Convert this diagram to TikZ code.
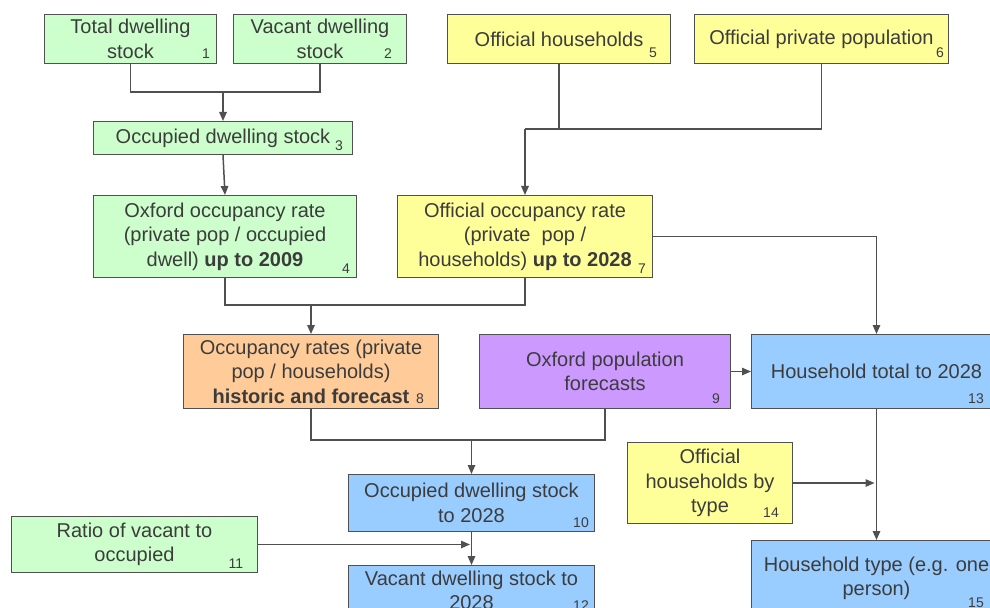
\documentclass[tikz,border=0pt]{standalone}
\usepackage{fontspec}
\setmainfont{Liberation Sans}
\usetikzlibrary{arrows.meta}

\definecolor{fgreen}{HTML}{CCFFCC}
\definecolor{fyellow}{HTML}{FFFF99}
\definecolor{forange}{HTML}{FFCC99}
\definecolor{fpurple}{HTML}{CC99FF}
\definecolor{fblue}{HTML}{99CCFF}
\definecolor{edge}{HTML}{505050}
\definecolor{ink}{HTML}{3C3C3C}

\begin{document}
\begin{tikzpicture}[
  x=1bp, y=-1bp,
  box/.style={draw=edge, line width=1bp, inner sep=0pt, anchor=north west,
    align=center, text=ink, font=\fontsize{20bp}{24.5bp}\selectfont},
  num/.style={inner sep=0pt, text=ink, font=\fontsize{14bp}{14bp}\selectfont},
  link/.style={draw=edge, line width=1.5bp},
  flow/.style={link, -{Triangle[length=9bp,width=7.5bp]}},
]
\useasboundingbox (0,0) rectangle (990,608);
\clip (0,0) rectangle (990,608);

% --- boxes ---
\node[box, fill=fgreen, minimum width=172bp, minimum height=49bp] (b1) at (44,14)
  {Total dwelling\\stock};
\node[box, fill=fgreen, minimum width=173bp, minimum height=49bp] (b2) at (233,14)
  {Vacant dwelling\\stock};
\node[box, fill=fgreen, minimum width=259bp, minimum height=33bp] (b3) at (93,121)
  {Occupied dwelling stock};
\node[box, fill=fgreen, minimum width=263bp, minimum height=82bp] (b4) at (93,195)
  {Oxford occupancy rate\\(private pop / occupied\\dwell) \textbf{up to 2009}};
\node[box, fill=fyellow, minimum width=223bp, minimum height=49bp] (b5) at (447,14)
  {Official households};
\node[box, fill=fyellow, minimum width=254bp, minimum height=49bp] (b6) at (694,14)
  {Official private population};
\node[box, fill=fyellow, minimum width=255bp, minimum height=82bp] (b7) at (397,195)
  {Official occupancy rate\\(private\ \ pop /\\households) \textbf{up to 2028}};
\node[box, fill=forange, minimum width=255bp, minimum height=74bp] (b8) at (183,334)
  {Occupancy rates (private\\pop / households)\\\textbf{historic and forecast}};
\node[box, fill=fpurple, minimum width=251bp, minimum height=74bp] (b9) at (479,334)
  {Oxford population\\forecasts};
\node[box, fill=fblue, minimum width=250bp, minimum height=74bp] (b13) at (751,334)
  {Household total to 2028};
\node[box, fill=fyellow, minimum width=165bp, minimum height=81bp] (b14) at (627,442)
  {Official\\households by\\type};
\node[box, fill=fblue, minimum width=246bp, minimum height=57bp] (b10) at (348,474)
  {Occupied dwelling stock\\to 2028};
\node[box, fill=fgreen, minimum width=246bp, minimum height=56bp] (b11) at (11,516)
  {Ratio of vacant to\\occupied};
\node[box, fill=fblue, minimum width=246bp, minimum height=50bp] (b12) at (348,565)
  {Vacant dwelling stock to\\2028};
\node[box, fill=fblue, minimum width=250bp, minimum height=76bp] (b15) at (751,540)
  {Household type (e.g. one\\person)};

% --- reference numbers ---
\node[num] (n1)  at ([shift={(-11,-10)}]b1.south east) {1};
\node[num] (n2)  at ([shift={(-19,-10)}]b2.south east) {2};
\node[num] (n3)  at ([shift={(-14,-9)}]b3.south east) {3};
\node[num] (n4)  at ([shift={(-11,-9)}]b4.south east) {4};
\node[num] (n5)  at ([shift={(-18,-11)}]b5.south east) {5};
\node[num] (n6)  at ([shift={(-9,-11)}]b6.south east) {6};
\node[num] (n7)  at ([shift={(-11,-9)}]b7.south east) {7};
\node[num] (n8)  at ([shift={(-19,-10)}]b8.south east) {8};
\node[num] (n9)  at ([shift={(-15,-10)}]b9.south east) {9};
\node[num] (n10) at ([shift={(-14,-9)}]b10.south east) {10};
\node[num] (n11) at ([shift={(-22,-9)}]b11.south east) {11};
\node[num] (n12) at ([shift={(-14,41)}]b12.north east) {12};
\node[num] (n13) at ([shift={(-26,-10)}]b13.south east) {13};
\node[num] (n14) at ([shift={(-22,-11)}]b14.south east) {14};
\node[num] (n15) at ([shift={(-26,63)}]b15.north east) {15};

% --- junction points ---
\coordinate (j1) at (b3.north |- 0,92);
\coordinate (j2) at (b7.north |- 0,129);
\coordinate (j3) at (b8.north |- 0,305);
\coordinate (j4) at (b10.north |- 0,440);
\coordinate (e14) at ([xshift=-2bp]b13.south |- b14.east);
\coordinate (e11) at ([xshift=-1.5bp]b10.south |- b11.east);

% --- connectors ---
\draw[link] (b1.south) |- (j1) -| (b2.south);
\draw[flow] (j1) -- (b3.north);
\draw[flow] (b3.south) -- (b4.north);

\draw[link] (b5.south) -- (b5.south |- j2);
\draw[link] (b6.south) |- (j2);
\draw[flow] (j2) -- (b7.north);

\draw[link] (b4.south) |- (j3) -| (b7.south);
\draw[flow] (j3) -- (b8.north);

\draw[flow] (b7.east) -| (b13.north);
\draw[flow] (b9.east) -- (b13.west);

\draw[link] (b8.south) |- (j4) -| (b9.south);
\draw[flow] (j4) -- (b10.north);

\draw[flow] (b13.south) -- (b15.north);
\draw[flow] (b14.east) -- (e14);

\draw[flow] (b10.south) -- (b12.north);
\draw[flow] (b11.east) -- (e11);
\end{tikzpicture}
\end{document}
